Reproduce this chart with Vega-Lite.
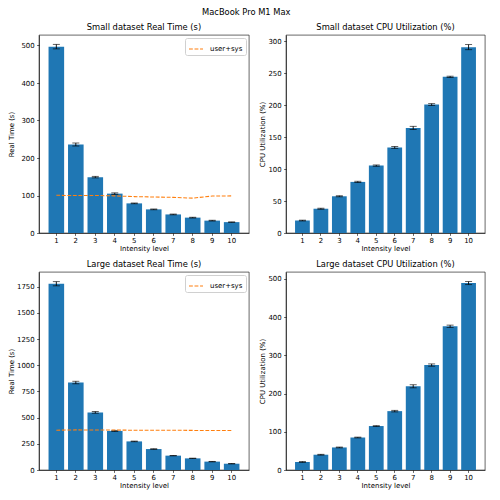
{
  "$schema": "https://vega.github.io/schema/vega-lite/v6.json",
  "background": "white",
  "padding": {"left": 7, "top": 8, "right": 17, "bottom": 5},
  "title": {"text": "MacBook Pro M1 Max", "fontSize": 8.33, "offset": 6, "anchor": "middle", "frame": "bounds"},
  "data": {"values": [
    {"ds": "Small", "level": 1, "real": 497, "real_err": 6, "cpu": 19.5, "cpu_err": 0.6, "usersys": 100.5},
    {"ds": "Small", "level": 2, "real": 236, "real_err": 4, "cpu": 38, "cpu_err": 0.8, "usersys": 100},
    {"ds": "Small", "level": 3, "real": 149, "real_err": 2, "cpu": 57.5, "cpu_err": 0.8, "usersys": 100},
    {"ds": "Small", "level": 4, "real": 105, "real_err": 2, "cpu": 80, "cpu_err": 1, "usersys": 99},
    {"ds": "Small", "level": 5, "real": 79, "real_err": 1, "cpu": 105.5, "cpu_err": 1, "usersys": 97},
    {"ds": "Small", "level": 6, "real": 63, "real_err": 1, "cpu": 134, "cpu_err": 1.5, "usersys": 96},
    {"ds": "Small", "level": 7, "real": 49.5, "real_err": 1, "cpu": 164.5, "cpu_err": 2.5, "usersys": 95},
    {"ds": "Small", "level": 8, "real": 41, "real_err": 1, "cpu": 201, "cpu_err": 1.5, "usersys": 93},
    {"ds": "Small", "level": 9, "real": 33, "real_err": 1, "cpu": 244.5, "cpu_err": 1, "usersys": 98.5},
    {"ds": "Small", "level": 10, "real": 29, "real_err": 0.5, "cpu": 291, "cpu_err": 4, "usersys": 99},
    {"ds": "Large", "level": 1, "real": 1778, "real_err": 20, "cpu": 21, "cpu_err": 1, "usersys": 380},
    {"ds": "Large", "level": 2, "real": 835, "real_err": 12, "cpu": 40, "cpu_err": 1, "usersys": 383},
    {"ds": "Large", "level": 3, "real": 550, "real_err": 8, "cpu": 59, "cpu_err": 1, "usersys": 382},
    {"ds": "Large", "level": 4, "real": 373, "real_err": 5, "cpu": 85, "cpu_err": 1, "usersys": 381},
    {"ds": "Large", "level": 5, "real": 273, "real_err": 3, "cpu": 115, "cpu_err": 1, "usersys": 380},
    {"ds": "Large", "level": 6, "real": 200, "real_err": 3, "cpu": 154, "cpu_err": 2, "usersys": 380},
    {"ds": "Large", "level": 7, "real": 137, "real_err": 2, "cpu": 219, "cpu_err": 4, "usersys": 379},
    {"ds": "Large", "level": 8, "real": 111, "real_err": 2, "cpu": 274.5, "cpu_err": 3, "usersys": 378},
    {"ds": "Large", "level": 9, "real": 80, "real_err": 2, "cpu": 376, "cpu_err": 3, "usersys": 377},
    {"ds": "Large", "level": 10, "real": 60, "real_err": 2, "cpu": 489, "cpu_err": 4, "usersys": 377}
  ]},
  "columns": 2,
  "spacing": {"row": 7, "column": 8},
  "resolve": {"scale": {"color": "independent"}, "legend": {"color": "independent"}},
  "concat": [
    {
      "width": 210, "height": 198,
      "title": "Small dataset Real Time (s)",
      "transform": [{"filter": "datum.ds === 'Small'"}],
      "encoding": {"x": {"field": "level", "type": "ordinal", "scale": {"paddingInner": 0.2, "paddingOuter": 0.49}, "axis": {"title": "Intensity level", "labelAngle": 0}}},
      "layer": [
        {"mark": {"type": "bar", "color": "#1f77b4"},
         "encoding": {"y": {"field": "real", "type": "quantitative", "title": "Real Time (s)", "scale": {"domain": [0, 528], "nice": false}, "axis": {"values": [0, 100, 200, 300, 400, 500], "format": "d", "minExtent": 22, "maxExtent": 22}}}},
        {"mark": {"type": "errorbar", "color": "black", "ticks": {"size": 7, "color": "black", "thickness": 0.9}, "rule": {"strokeWidth": 0.9}},
         "encoding": {"y": {"field": "real", "type": "quantitative", "title": "Real Time (s)", "scale": {"domain": [0, 528], "nice": false}, "axis": {"values": [0, 100, 200, 300, 400, 500], "format": "d", "minExtent": 22, "maxExtent": 22}}, "yError": {"field": "real_err"}}},
        {"mark": {"type": "line", "strokeDash": [3.85, 1.67], "strokeWidth": 1.05},
         "encoding": {"y": {"field": "usersys", "type": "quantitative", "title": "Real Time (s)", "scale": {"domain": [0, 528], "nice": false}, "axis": {"values": [0, 100, 200, 300, 400, 500], "format": "d", "minExtent": 22, "maxExtent": 22}},
           "color": {"datum": "user+sys", "scale": {"range": ["#ff7f0e"]}, "legend": {"title": null, "symbolDash": [3.85, 1.67]}}}}
      ]
    },
    {
      "width": 199, "height": 198,
      "title": "Small dataset CPU Utilization (%)",
      "transform": [{"filter": "datum.ds === 'Small'"}],
      "encoding": {"x": {"field": "level", "type": "ordinal", "scale": {"paddingInner": 0.2, "paddingOuter": 0.49}, "axis": {"title": "Intensity level", "labelAngle": 0}}},
      "layer": [
        {"mark": {"type": "bar", "color": "#1f77b4"},
         "encoding": {"y": {"field": "cpu", "type": "quantitative", "title": "CPU Utilization (%)", "scale": {"domain": [0, 310], "nice": false}, "axis": {"values": [0, 50, 100, 150, 200, 250, 300], "format": "d", "minExtent": 18, "maxExtent": 18}}}},
        {"mark": {"type": "errorbar", "color": "black", "ticks": {"size": 7, "color": "black", "thickness": 0.9}, "rule": {"strokeWidth": 0.9}},
         "encoding": {"y": {"field": "cpu", "type": "quantitative", "title": "CPU Utilization (%)", "scale": {"domain": [0, 310], "nice": false}, "axis": {"values": [0, 50, 100, 150, 200, 250, 300], "format": "d", "minExtent": 18, "maxExtent": 18}}, "yError": {"field": "cpu_err"}}}
      ]
    },
    {
      "width": 210, "height": 198,
      "title": "Large dataset Real Time (s)",
      "transform": [{"filter": "datum.ds === 'Large'"}],
      "encoding": {"x": {"field": "level", "type": "ordinal", "scale": {"paddingInner": 0.2, "paddingOuter": 0.49}, "axis": {"title": "Intensity level", "labelAngle": 0}}},
      "layer": [
        {"mark": {"type": "bar", "color": "#1f77b4"},
         "encoding": {"y": {"field": "real", "type": "quantitative", "title": "Real Time (s)", "scale": {"domain": [0, 1890], "nice": false}, "axis": {"values": [0, 250, 500, 750, 1000, 1250, 1500, 1750], "format": "d", "minExtent": 22, "maxExtent": 22}}}},
        {"mark": {"type": "errorbar", "color": "black", "ticks": {"size": 7, "color": "black", "thickness": 0.9}, "rule": {"strokeWidth": 0.9}},
         "encoding": {"y": {"field": "real", "type": "quantitative", "title": "Real Time (s)", "scale": {"domain": [0, 1890], "nice": false}, "axis": {"values": [0, 250, 500, 750, 1000, 1250, 1500, 1750], "format": "d", "minExtent": 22, "maxExtent": 22}}, "yError": {"field": "real_err"}}},
        {"mark": {"type": "line", "strokeDash": [3.85, 1.67], "strokeWidth": 1.05},
         "encoding": {"y": {"field": "usersys", "type": "quantitative", "title": "Real Time (s)", "scale": {"domain": [0, 1890], "nice": false}, "axis": {"values": [0, 250, 500, 750, 1000, 1250, 1500, 1750], "format": "d", "minExtent": 22, "maxExtent": 22}},
           "color": {"datum": "user+sys", "scale": {"range": ["#ff7f0e"]}, "legend": {"title": null, "symbolDash": [3.85, 1.67]}}}}
      ]
    },
    {
      "width": 199, "height": 198,
      "title": "Large dataset CPU Utilization (%)",
      "transform": [{"filter": "datum.ds === 'Large'"}],
      "encoding": {"x": {"field": "level", "type": "ordinal", "scale": {"paddingInner": 0.2, "paddingOuter": 0.49}, "axis": {"title": "Intensity level", "labelAngle": 0}}},
      "layer": [
        {"mark": {"type": "bar", "color": "#1f77b4"},
         "encoding": {"y": {"field": "cpu", "type": "quantitative", "title": "CPU Utilization (%)", "scale": {"domain": [0, 518], "nice": false}, "axis": {"values": [0, 100, 200, 300, 400, 500], "format": "d", "minExtent": 18, "maxExtent": 18}}}},
        {"mark": {"type": "errorbar", "color": "black", "ticks": {"size": 7, "color": "black", "thickness": 0.9}, "rule": {"strokeWidth": 0.9}},
         "encoding": {"y": {"field": "cpu", "type": "quantitative", "title": "CPU Utilization (%)", "scale": {"domain": [0, 518], "nice": false}, "axis": {"values": [0, 100, 200, 300, 400, 500], "format": "d", "minExtent": 18, "maxExtent": 18}}, "yError": {"field": "cpu_err"}}}
      ]
    }
  ],
  "config": {
    "font": "DejaVu Sans",
    "view": {"stroke": "black", "strokeWidth": 0.6},
    "title": {"font": "DejaVu Sans", "fontSize": 8.33, "fontWeight": "normal", "color": "black", "offset": 4, "frame": "group"},
    "axis": {"labelFont": "DejaVu Sans", "titleFont": "DejaVu Sans", "labelFontSize": 6.94, "titleFontSize": 6.94, "titleFontWeight": "normal", "labelColor": "black", "titleColor": "black", "tickColor": "black", "domainColor": "black", "tickSize": 2.4, "labelPadding": 2.4, "tickWidth": 0.6, "domainWidth": 0.6, "grid": false, "labelOverlap": false},
    "axisX": {"titlePadding": 2},
    "axisY": {"titlePadding": 2.5},
    "legend": {"orient": "top-right", "offset": 3, "strokeColor": "#d0d0d0", "fillColor": "white", "padding": 3, "cornerRadius": 2, "labelFont": "DejaVu Sans", "labelFontSize": 6.94, "labelColor": "black", "symbolType": "stroke", "symbolSize": 196, "symbolStrokeWidth": 1.05, "labelOffset": 6}
  }
}
